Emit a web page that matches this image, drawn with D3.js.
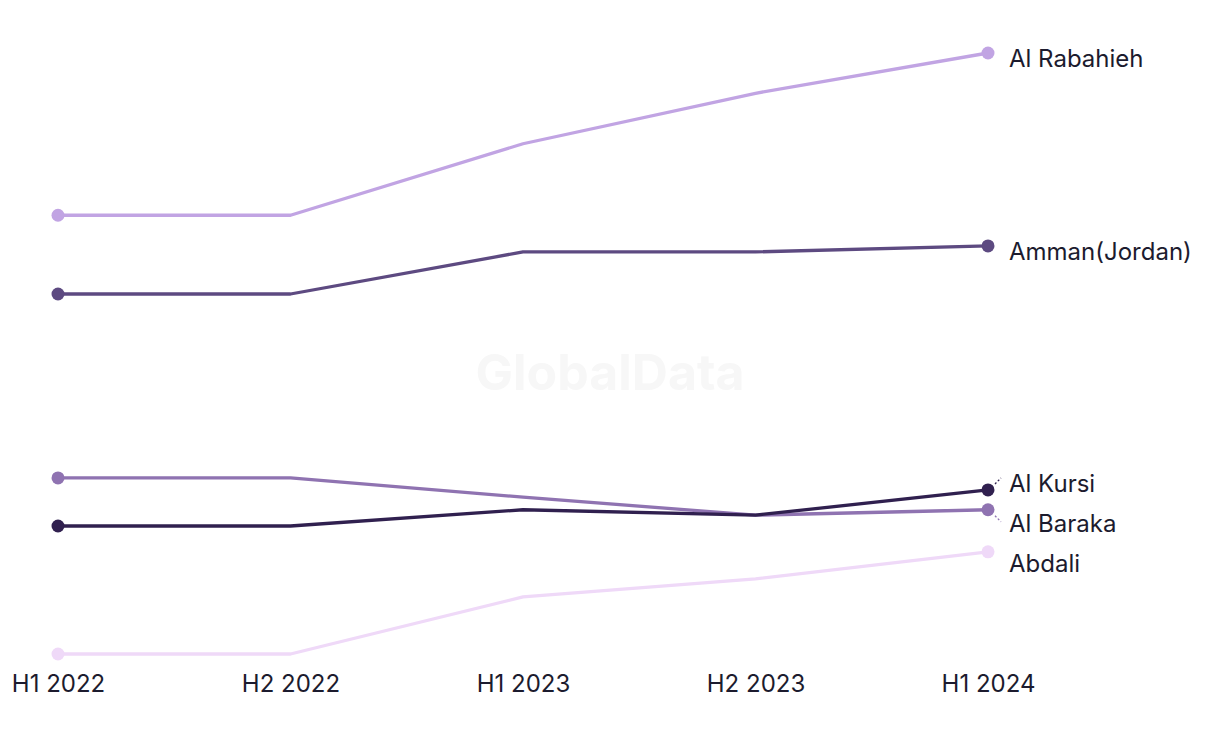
<!DOCTYPE html>
<html><head><meta charset="utf-8">
<script src="https://cdn.jsdelivr.net/npm/d3@7"></script>
<style>
html,body{margin:0;padding:0;background:#fff;}
svg{display:block;font-family:Inter,"Noto Sans",sans-serif;}
</style></head>
<body>
<svg id="chart" width="1220" height="744"></svg>
<script>
const periods = ["H1 2022","H2 2022","H1 2023","H2 2023","H1 2024"];
const seriesNames = ["Al Rabahieh","Amman(Jordan)","Al Baraka","Al Kursi","Abdali"];
const alRabahieh = [73.0, 73.0, 84.9, 93.3, 100.0];
const amman = [59.9, 59.9, 66.9, 66.9, 67.9];
const alBaraka = [29.3, 29.3, 26.1, 23.1, 24.0];
const alKursi = [21.3, 21.3, 24.0, 23.1, 27.3];
const abdali = [0.0, 0.0, 9.5, 12.5, 17.0];
const colors = ["#c1a4e3","#5d4a81","#8f73b1","#30204f","#efd9f8"];

const seriesValues = [alRabahieh, amman, alBaraka, alKursi, abdali];
const series = seriesNames.map((n,i)=>({name:n, values:seriesValues[i], color:colors[i]}));

const svg = d3.select("#chart");
const x = d3.scalePoint().domain(periods).range([58, 988]);
const y = d3.scaleLinear().domain([0, 100]).range([654, 53]);

// watermark
svg.append("text").attr("x", 610).attr("y", 390).attr("text-anchor","middle")
  .attr("font-size", 50).attr("font-weight", 700).attr("fill", "#f7f7f7")
  .attr("font-family","Inter,'Noto Sans',sans-serif")
  .text("GlobalData");

// axis
const axis = d3.axisBottom(x).tickSize(0).tickPadding(0);
const gx = svg.append("g").attr("transform","translate(0,675)").call(axis);
gx.select(".domain").remove();
gx.selectAll("text").attr("font-size", 24).attr("fill","#1c1b2e")
  .attr("font-family","Inter,'Noto Sans',sans-serif").attr("dy","0.71em");

const line = d3.line().x((d,i)=>x(periods[i])).y(d=>y(d));

const order = [4,0,1,2,3];
order.forEach(k=>{
  const s = series[k];
  svg.append("path").datum(s.values).attr("d", line)
    .attr("fill","none").attr("stroke", s.color).attr("stroke-width", 3.3)
    .attr("stroke-linejoin","round");
  svg.append("circle").attr("cx", x(periods[0])).attr("cy", y(s.values[0])).attr("r", 6.5).attr("fill", s.color);
  svg.append("circle").attr("cx", x(periods[periods.length-1])).attr("cy", y(s.values[s.values.length-1])).attr("r", 6.5).attr("fill", s.color);
});

// label placement with collision avoidance
const last = periods.length-1;
let labels = series.map(s=>({s, dotY: y(s.values[last]), nat: y(s.values[last]) + 6}));
labels.sort((a,b)=>a.nat-b.nat);
const gap = 40;
let groups = labels.map(l=>({items:[l], center:l.nat}));
let changed = true;
function groupTop(g){ return g.center - (g.items.length-1)*gap/2; }
while(changed){
  changed=false;
  for(let i=0;i<groups.length-1;i++){
    const a=groups[i], b=groups[i+1];
    const aBottom = groupTop(a) + (a.items.length-1)*gap;
    if(groupTop(b) - aBottom < gap){
      const items = a.items.concat(b.items);
      const center = d3.mean(items, d=>d.nat);
      groups.splice(i,2,{items, center});
      changed=true; break;
    }
  }
}
groups.forEach(g=>{
  const t = groupTop(g);
  g.items.forEach((it,j)=>{ it.ly = t + j*gap; });
});

const lx = 1009;
labels.forEach(l=>{
  if(Math.abs(l.ly - l.nat) > 6){
    const dir = l.ly < l.dotY ? -1 : 1;
    svg.append("line").attr("x1", 995).attr("y1", l.dotY + dir*6)
      .attr("x2", 1001).attr("y2", l.dotY + dir*12)
      .attr("stroke", l.s.color).attr("stroke-width", 1.3).attr("stroke-dasharray","2,2");
  }
  svg.append("text").attr("x", lx).attr("y", l.ly).attr("dy","0.35em")
    .attr("font-size", 24).attr("fill","#1c1b2e")
    .attr("font-family","Inter,'Noto Sans',sans-serif")
    .text(l.s.name);
});
</script>
</body></html>
